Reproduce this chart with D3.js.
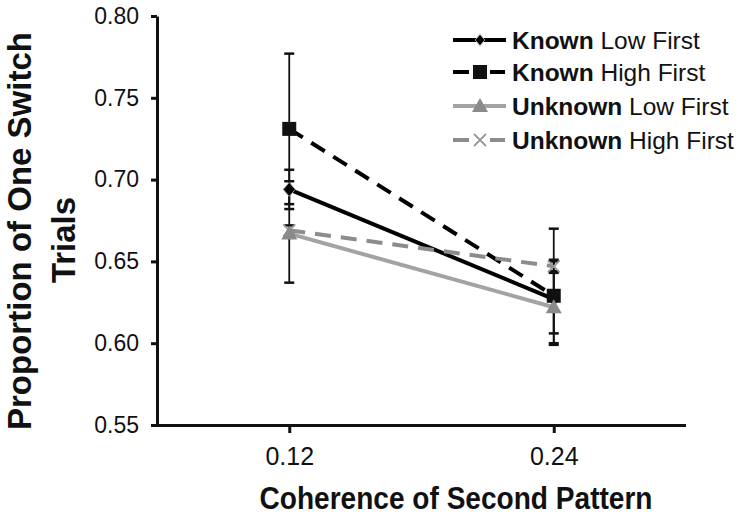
<!DOCTYPE html>
<html>
<head>
<meta charset="utf-8">
<script src="https://cdn.jsdelivr.net/npm/d3@7"></script>
<style>
  html, body { margin: 0; padding: 0; background: #fff; }
  svg { display: block; font-family: "Liberation Sans", Arial, sans-serif; }
</style>
</head>
<body>
<svg id="chart" width="743" height="517"></svg>
<script>
// ---- data ----
const categories = ["0.12", "0.24"];
const yTicks = [0.55, 0.60, 0.65, 0.70, 0.75, 0.80];
const seriesNames = ["Known Low First", "Known High First", "Unknown Low First", "Unknown High First"];
const knownLow = [0.694, 0.627];
const knownLowUpper = [0.706, 0.650];
const knownLowLower = [0.682, 0.606];
const knownHigh = [0.731, 0.629];
const knownHighUpper = [0.777, 0.670];
const knownHighLower = [0.685, 0.599];
const unknownLow = [0.667, 0.622];
const unknownLowUpper = [0.699, 0.644];
const unknownLowLower = [0.637, 0.600];
const unknownHigh = [0.669, 0.647];
const unknownHighUpper = [0.672, 0.651];
const unknownHighLower = [0.666, 0.643];

const series = [
  { bold: "Known", rest: " Low First", values: knownLow, upper: knownLowUpper, lower: knownLowLower,
    color: "#000", dash: null, marker: "diamond", markerFill: "#000", z: 1 },
  { bold: "Known", rest: " High First", values: knownHigh, upper: knownHighUpper, lower: knownHighLower,
    color: "#000", dash: "16,10", marker: "square", markerFill: "#111", z: 2 },
  { bold: "Unknown", rest: " Low First", values: unknownLow, upper: unknownLowUpper, lower: unknownLowLower,
    color: "#a3a3a3", dash: null, marker: "triangle", markerFill: "#8a8a8a", z: 3 },
  { bold: "Unknown", rest: " High First", values: unknownHigh, upper: unknownHighUpper, lower: unknownHighLower,
    color: "#8c8c8c", dash: "16,10", marker: "cross", markerFill: "#999", z: 0 }
];

// ---- layout ----
const svg = d3.select("#chart");
const x = d3.scalePoint().domain(categories).range([157, 686]).padding(0.5);
const y = d3.scaleLinear().domain([0.55, 0.80]).range([425, 16]);

// axes
const yAxis = d3.axisLeft(y).tickValues(yTicks).tickFormat(d3.format(".2f")).tickSize(6).tickSizeOuter(0).tickPadding(12);
const gy = svg.append("g").attr("transform", "translate(157,0)").call(yAxis);
gy.select(".domain").attr("stroke", "#111").attr("stroke-width", 3);
gy.selectAll(".tick line").attr("stroke", "#111").attr("stroke-width", 3);
gy.selectAll(".tick text").attr("font-size", 23).attr("fill", "#111")
  .attr("font-family", "Liberation Sans, Arial, sans-serif");

const xAxis = d3.axisBottom(x).tickSize(8).tickSizeOuter(0).tickPadding(14);
const gx = svg.append("g").attr("transform", "translate(0,425)").call(xAxis);
gx.select(".domain").attr("stroke", "#111").attr("stroke-width", 3).attr("d", "M151,0.5H686");
gx.selectAll(".tick line").attr("stroke", "#111").attr("stroke-width", 3);
gx.selectAll(".tick text").attr("font-size", 25).attr("fill", "#111")
  .attr("font-family", "Liberation Sans, Arial, sans-serif");

// axis titles
svg.append("text").attr("x", 456).attr("y", 509).attr("text-anchor", "middle")
  .attr("font-size", 31).attr("font-weight", "bold").attr("fill", "#111")
  .attr("textLength", 393).attr("lengthAdjust", "spacingAndGlyphs")
  .text("Coherence of Second Pattern");
svg.append("text").attr("transform", "translate(31,231) rotate(-90)").attr("text-anchor", "middle")
  .attr("font-size", 33).attr("font-weight", "bold").attr("fill", "#111")
  .attr("textLength", 398).attr("lengthAdjust", "spacingAndGlyphs")
  .text("Proportion of One Switch");
svg.append("text").attr("transform", "translate(75,240) rotate(-90)").attr("text-anchor", "middle")
  .attr("font-size", 33).attr("font-weight", "bold").attr("fill", "#111")
  .text("Trials");

// lines
const line = d3.line().x((d, i) => x(categories[i])).y(d => y(d));
series.forEach(s => {
  svg.append("path").datum(s.values).attr("d", line)
    .attr("fill", "none").attr("stroke", s.color).attr("stroke-width", 4)
    .attr("stroke-dasharray", s.dash);
});

// error bars
series.forEach(s => {
  const g = svg.append("g");
  categories.forEach((c, i) => {
    const cx = x(c);
    g.append("line").attr("x1", cx).attr("x2", cx).attr("y1", y(s.upper[i])).attr("y2", y(s.lower[i]))
      .attr("stroke", "#111").attr("stroke-width", 1.8);
    [s.upper[i], s.lower[i]].forEach(v => {
      g.append("line").attr("x1", cx - 5).attr("x2", cx + 5).attr("y1", y(v)).attr("y2", y(v))
        .attr("stroke", "#111").attr("stroke-width", 2.5);
    });
  });
});

// markers
function drawMarker(g, type, cx, cy, fill, scale) {
  const k = scale || 1;
  if (type === "diamond") {
    g.append("path").attr("d", `M${cx},${cy - 7 * k}L${cx + 6 * k},${cy}L${cx},${cy + 7 * k}L${cx - 6 * k},${cy}Z`)
      .attr("fill", fill).attr("stroke", "#999").attr("stroke-width", 1);
  } else if (type === "square") {
    g.append("rect").attr("x", cx - 7 * k).attr("y", cy - 7 * k).attr("width", 14 * k).attr("height", 14 * k).attr("fill", fill);
  } else if (type === "triangle") {
    g.append("path").attr("d", `M${cx},${cy - 8 * k}L${cx + 8 * k},${cy + 6 * k}L${cx - 8 * k},${cy + 6 * k}Z`).attr("fill", fill);
  } else if (type === "cross") {
    const r = 6 * k;
    g.append("path").attr("d", `M${cx - r},${cy - r}L${cx + r},${cy + r}M${cx - r},${cy + r}L${cx + r},${cy - r}`)
      .attr("stroke", fill).attr("stroke-width", 1.8).attr("fill", "none");
  }
}
const markerOrder = series.slice().sort((a, b) => a.z - b.z);
const gm = svg.append("g");
markerOrder.forEach(s => {
  categories.forEach((c, i) => drawMarker(gm, s.marker, x(c), y(s.values[i]), s.markerFill, 1));
});

// legend
const legendRows = [40, 72, 106, 140];
const lg = svg.append("g");
series.forEach((s, i) => {
  const ry = legendRows[i];
  if (s.dash) {
    lg.append("line").attr("x1", 453).attr("x2", 469).attr("y1", ry).attr("y2", ry).attr("stroke", s.color).attr("stroke-width", 4);
    lg.append("line").attr("x1", 490).attr("x2", 505).attr("y1", ry).attr("y2", ry).attr("stroke", s.color).attr("stroke-width", 4);
  } else {
    lg.append("line").attr("x1", 453).attr("x2", 506).attr("y1", ry).attr("y2", ry).attr("stroke", s.color).attr("stroke-width", 4);
  }
  drawMarker(lg, s.marker, 480, ry, s.markerFill, s.marker === "diamond" ? 0.8 : 1);
  const t = lg.append("text").attr("x", 512).attr("y", ry).attr("dominant-baseline", "central")
    .attr("font-size", 24.5).attr("fill", "#111");
  t.append("tspan").attr("font-weight", "bold").text(s.bold);
  t.append("tspan").text(s.rest);
});
</script>
</body>
</html>
